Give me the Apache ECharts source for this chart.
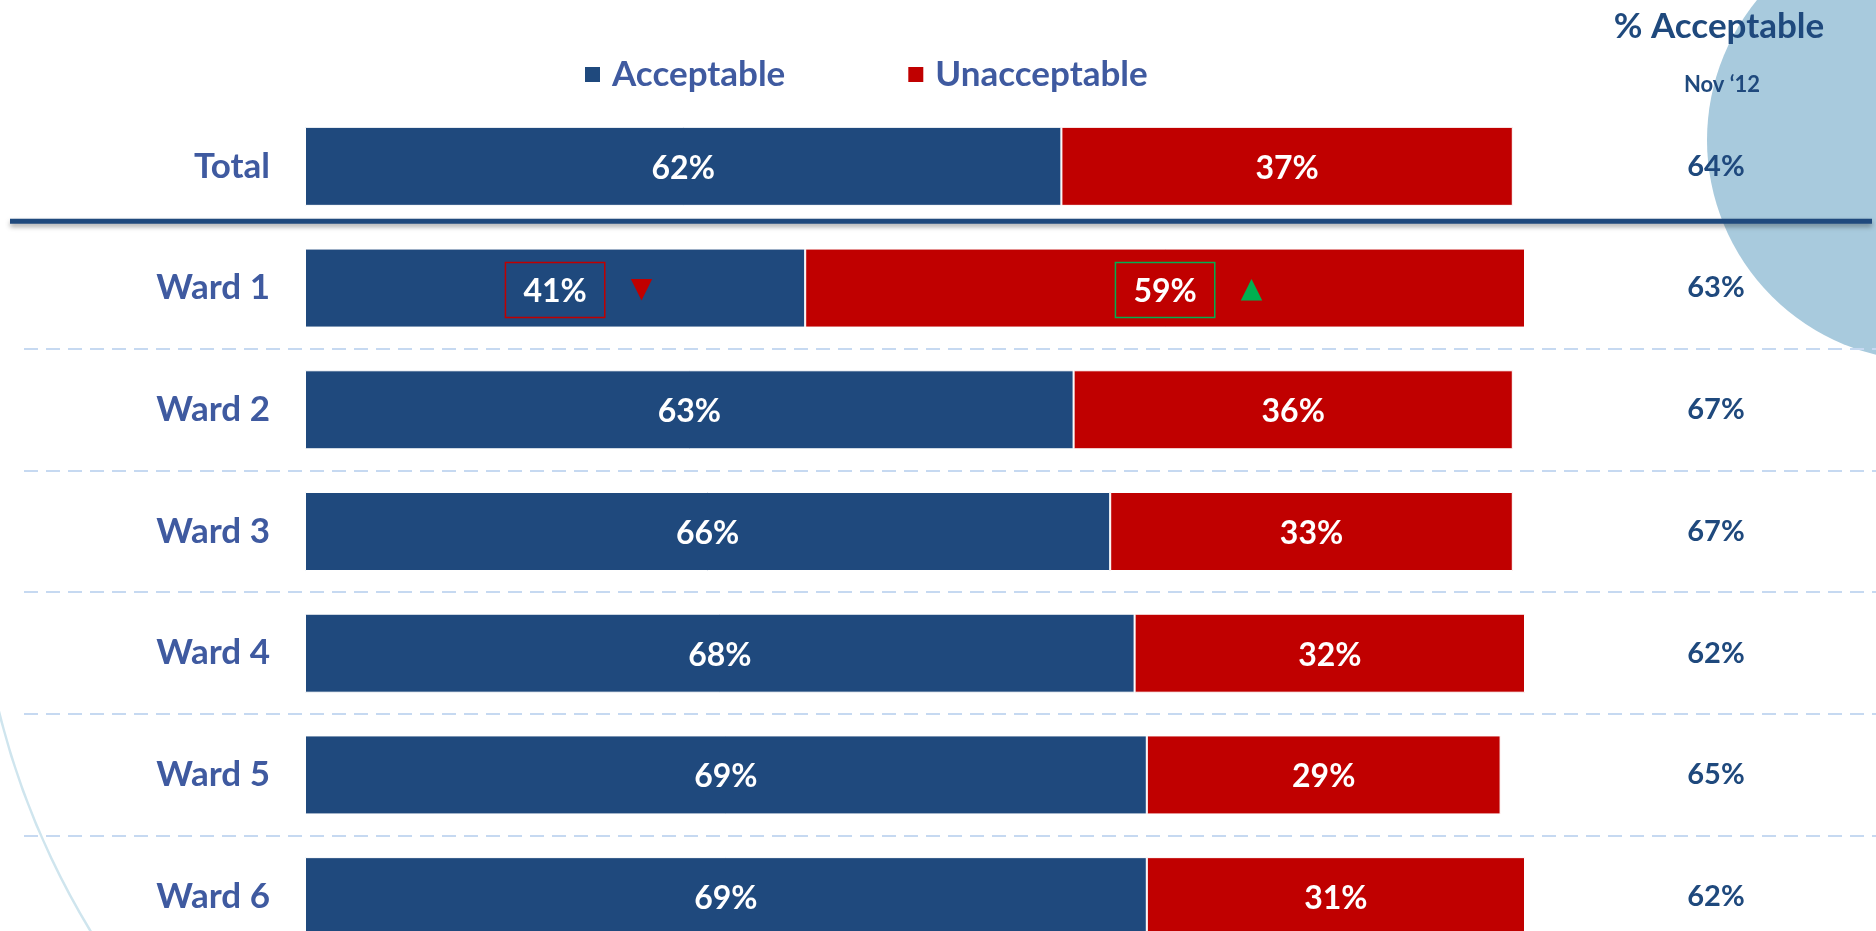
<!DOCTYPE html>
<html>
<head>
<meta charset="utf-8">
<script src="https://cdn.jsdelivr.net/npm/echarts@6/dist/echarts.min.js"></script>
<style>
  html, body { margin: 0; padding: 0; background: #ffffff; }
  #chart { width: 1876px; height: 931px; }
</style>
</head>
<body>
<div id="chart"></div>
<script>
// Survey results by ward: share of acceptable / unacceptable responses
const categories = ['Total', 'Ward 1', 'Ward 2', 'Ward 3', 'Ward 4', 'Ward 5', 'Ward 6'];
const acceptable = [62, 41, 63, 66, 68, 69, 69];
const unacceptable = [37, 59, 36, 33, 32, 29, 31];
// Previous wave (% acceptable, Nov '12)
const acceptableNov12 = [64, 63, 67, 67, 62, 65, 62];
// Significant change flags versus previous wave
const acceptableChange = [null, 'down', null, null, null, null, null];
const unacceptableChange = [null, 'up', null, null, null, null, null];

const BLUE = '#1F497D';
const RED = '#C00000';
const GREEN = '#00B050';
const LABEL_BLUE = '#3F5AA0';
const FONT = 'Lato, "Open Sans", sans-serif';

function flaggedLabel(flags) {
  return function (p) {
    const f = flags[p.dataIndex];
    if (f === 'down') return '{spDown|\u25BC}{boxDown|' + p.value + '%}{down|\u25BC}';
    if (f === 'up') return '{spUp|\u25B2}{boxUp|' + p.value + '%}{up|\u25B2}';
    return p.value + '%';
  };
}

const boxText = { color: '#fff', fontSize: 32, fontWeight: 'bold', fontFamily: FONT,
  borderWidth: 1.5, padding: [13, 18, 10, 18], verticalAlign: 'middle' };
const triText = { fontSize: 28, verticalAlign: 'middle', fontFamily: 'DejaVu Sans' };

const richStyles = {
  boxDown: Object.assign({}, boxText, { borderColor: RED }),
  boxUp: Object.assign({}, boxText, { borderColor: GREEN }),
  down: Object.assign({}, triText, { color: RED, padding: [0, 0, 0, 26] }),
  up: Object.assign({}, triText, { color: GREEN, padding: [0, 0, 0, 26] }),
  spDown: Object.assign({}, triText, { color: 'transparent', padding: [0, 26, 0, 0] }),
  spUp: Object.assign({}, triText, { color: 'transparent', padding: [0, 26, 0, 0] })
};

const barLabel = (flags) => ({
  show: true,
  position: 'inside',
  offset: [0, 2],
  color: '#fff',
  fontSize: 32,
  fontWeight: 'bold',
  fontFamily: FONT,
  formatter: flaggedLabel(flags),
  rich: richStyles
});

const chart = echarts.init(document.getElementById('chart'), null, { renderer: 'canvas' });

const option = {
  animation: false,
  backgroundColor: '#ffffff',
  title: [
    { text: '% Acceptable', left: 1719, top: 9, padding: 0, textAlign: 'center',
      textStyle: { color: BLUE, fontSize: 35, fontWeight: 'bold', fontFamily: FONT } },
    { text: 'Nov \u201812', left: 1722, top: 74, padding: 0, textAlign: 'center',
      textStyle: { color: BLUE, fontSize: 22, fontWeight: 'bold', fontFamily: FONT } }
  ],
  legend: {
    left: 583,
    top: 57,
    padding: 0,
    icon: 'rect',
    itemWidth: 17,
    itemHeight: 17,
    itemGap: 121,
    selectedMode: false,
    textStyle: { color: LABEL_BLUE, fontSize: 35, fontWeight: 'bold', fontFamily: FONT, padding: [0, 0, 0, 6] },
    data: ['Acceptable', 'Unacceptable']
  },
  grid: { left: 305, top: 105.5, width: 1220, height: 852, containLabel: false, outerBoundsMode: 'none' },
  xAxis: { type: 'value', min: 0, max: 100, show: false },
  yAxis: [
    {
      type: 'category', data: categories, inverse: true,
      axisLine: { show: false }, axisTick: { show: false }, splitLine: { show: false },
      axisLabel: { color: LABEL_BLUE, fontSize: 35, fontWeight: 'bold', fontFamily: FONT, margin: 35 }
    },
    {
      type: 'category', data: categories, inverse: true, position: 'right',
      axisLine: { show: false }, axisTick: { show: false }, splitLine: { show: false },
      axisLabel: {
        color: BLUE, fontSize: 29, fontWeight: 'bold', fontFamily: FONT,
        align: 'center', margin: 191, padding: [6, 0, 0, 0],
        formatter: (v, i) => acceptableNov12[i] + '%'
      }
    }
  ],
  series: [
    {
      name: 'Acceptable', type: 'bar', stack: 'share', yAxisIndex: 0, barWidth: 79,
      itemStyle: { color: BLUE, borderColor: '#ffffff', borderWidth: 1 },
      label: barLabel(acceptableChange),
      data: acceptable
    },
    {
      name: 'Unacceptable', type: 'bar', stack: 'share', yAxisIndex: 0, barWidth: 79,
      itemStyle: { color: RED, borderColor: '#ffffff', borderWidth: 1 },
      label: barLabel(unacceptableChange),
      data: unacceptable
    }
  ]
};

chart.setOption(option);

// Row separators and background ornaments, placed from the category axis scale
const centers = categories.map((c, i) => chart.convertToPixel({ yAxisIndex: 0 }, i));
const graphics = [
  { type: 'circle', z: -10, silent: true,
    shape: { cx: 1928, cy: 140, r: 221 }, style: { fill: '#A8CADD' } },
  { type: 'arc', z: -10, silent: true,
    shape: { cx: 760, cy: 523, r: 784, startAngle: 2.40, endAngle: 3.0, clockwise: true },
    style: { fill: 'none', stroke: '#CFE5EE', lineWidth: 2.5 } },
  { type: 'line', z: 50, silent: true,
    shape: { x1: 10, y1: (centers[0] + centers[1]) / 2 - 6, x2: 1872, y2: (centers[0] + centers[1]) / 2 - 6 },
    style: { stroke: BLUE, lineWidth: 5, shadowColor: 'rgba(0,0,0,0.35)', shadowBlur: 5, shadowOffsetY: 3 } }
];
for (let i = 1; i < centers.length - 1; i++) {
  const y = Math.round((centers[i] + centers[i + 1]) / 2);
  graphics.push({ type: 'line', z: -5, silent: true,
    shape: { x1: 24, y1: y, x2: 1876, y2: y },
    style: { stroke: '#C6D9F1', lineWidth: 2, lineDash: [14, 8] } });
}
chart.setOption({ graphic: graphics });
</script>
</body>
</html>
